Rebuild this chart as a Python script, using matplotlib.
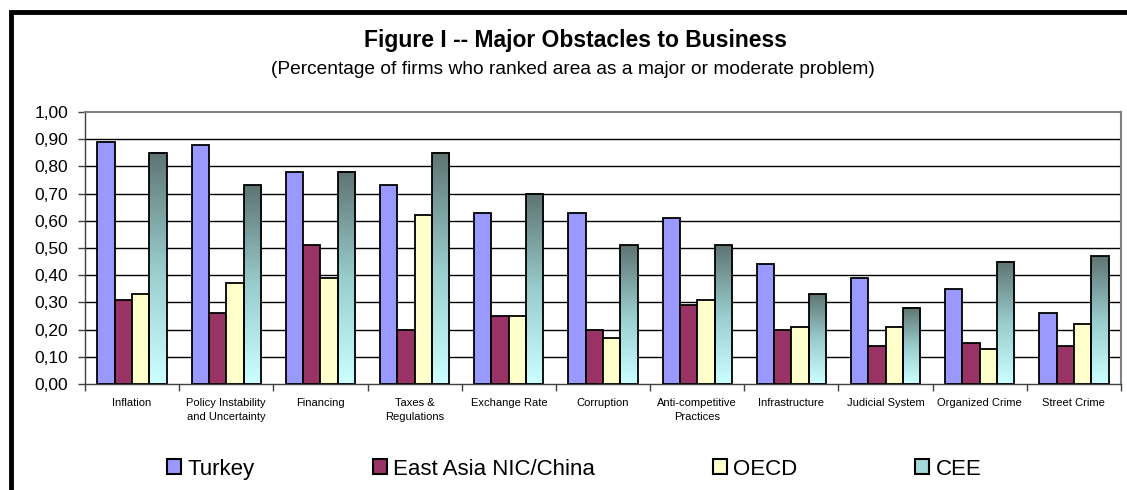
import numpy as np
import matplotlib
matplotlib.use("Agg")
import matplotlib.pyplot as plt
from matplotlib.patches import Rectangle, Patch
from matplotlib.colors import LinearSegmentedColormap

plt.rcParams['font.family'] = ['Liberation Sans', 'DejaVu Sans']

categories = ["Inflation", "Policy Instability\nand Uncertainty", "Financing",
              "Taxes &\nRegulations", "Exchange Rate", "Corruption",
              "Anti-competitive\nPractices", "Infrastructure", "Judicial System",
              "Organized Crime", "Street Crime"]
turkey = [0.89, 0.88, 0.78, 0.73, 0.63, 0.63, 0.61, 0.44, 0.39, 0.35, 0.26]
east_asia = [0.31, 0.26, 0.51, 0.20, 0.25, 0.20, 0.29, 0.20, 0.14, 0.15, 0.14]
oecd = [0.33, 0.37, 0.39, 0.62, 0.25, 0.17, 0.31, 0.21, 0.21, 0.13, 0.22]
cee = [0.85, 0.73, 0.78, 0.85, 0.70, 0.51, 0.51, 0.33, 0.28, 0.45, 0.47]
series_names = ["Turkey", "East Asia NIC/China", "OECD", "CEE"]
yticks = [0.0, 0.1, 0.2, 0.3, 0.4, 0.5, 0.6, 0.7, 0.8, 0.9, 1.0]

W, H = 1127, 490
fig = plt.figure(figsize=(W / 100, H / 100), dpi=100)
fig.patch.set_facecolor("white")

ax = fig.add_axes([85 / W, 1 - 384 / H, (1121 - 85) / W, (384 - 112) / H])

n = len(categories)
x = np.arange(n)
bw = 0.184
offsets = np.array([-1.5, -0.5, 0.5, 1.5]) * bw
edge_kw = dict(edgecolor="black", linewidth=1.3, zorder=3)

ax.bar(x + offsets[0], turkey, bw, color="#9999FF", **edge_kw)
ax.bar(x + offsets[1], east_asia, bw, color="#993366", **edge_kw)
ax.bar(x + offsets[2], oecd, bw, color="#FFFFCC", **edge_kw)
cee_bars = ax.bar(x + offsets[3], cee, bw, facecolor="none", **edge_kw)

# vertical gradient fill for CEE bars: light cyan at the base, slate at the top
grad_cmap = LinearSegmentedColormap.from_list(
    "cee", ["#CCFFFF", "#99CCCC", "#5E7473"])
grad = np.linspace(0, 1, 256).reshape(-1, 1)
for b in cee_bars:
    x0, w, h = b.get_x(), b.get_width(), b.get_height()
    ax.imshow(grad, cmap=grad_cmap, origin="lower", aspect="auto",
              extent=(x0, x0 + w, 0, h), zorder=2.5, interpolation="bilinear")

ax.set_xlim(-0.5, n - 0.5)
ax.set_ylim(0, 1.0)

# grid lines
ax.set_yticks(yticks)
ax.set_yticklabels([f"{v:.2f}".replace(".", ",") for v in yticks], fontsize=12.5)
for v in yticks[1:-1]:
    ax.axhline(v, color="black", linewidth=1.0, zorder=1)
ax.tick_params(axis="y", direction="out", length=5, width=1, pad=7, color="#404040")

# category boundaries carry tick marks, labels sit at the centres
ax.set_xticks(np.arange(n + 1) - 0.5)
ax.set_xticklabels([])
ax.tick_params(axis="x", which="major", direction="out", length=5, width=1, color="#404040")
ax.set_xticks(x, minor=True)
ax.set_xticklabels(categories, minor=True, fontsize=8, linespacing=1.5)
ax.tick_params(axis="x", which="minor", length=0, pad=10)

for side in ("top", "right"):
    ax.spines[side].set_color("#808080")
    ax.spines[side].set_linewidth(1.5)
for side in ("left", "bottom"):
    ax.spines[side].set_color("#404040")
    ax.spines[side].set_linewidth(1.0)

fig.text(575 / W, 1 - 40 / H, "Figure I -- Major Obstacles to Business",
         ha="center", va="center", fontsize=16.5, fontweight="bold")
fig.text(573 / W, 1 - 69 / H,
         "(Percentage of firms who ranked area as a major or moderate problem)",
         ha="center", va="center", fontsize=13.8)

handles = [Patch(facecolor="#9999FF", edgecolor="black", linewidth=1.5),
           Patch(facecolor="#993366", edgecolor="black", linewidth=1.5),
           Patch(facecolor="#FFFFCC", edgecolor="black", linewidth=1.5),
           Patch(facecolor="#A6D9D9", edgecolor="black", linewidth=1.5)]
fig.legend(handles, series_names, loc="center", bbox_to_anchor=(574.5 / W, 1 - 469 / H),
           ncol=4, frameon=False, fontsize=16, handlelength=0.62, handleheight=0.62,
           handletextpad=0.3, columnspacing=5.3, borderpad=0, borderaxespad=0)

# outer frame
fig.add_artist(Rectangle((10.5 / W, -0.1), 1.2, 1 - 12 / H + 0.1,
                         transform=fig.transFigure, fill=False,
                         edgecolor="black", linewidth=3.5))

fig.savefig("out.png", dpi=100)
